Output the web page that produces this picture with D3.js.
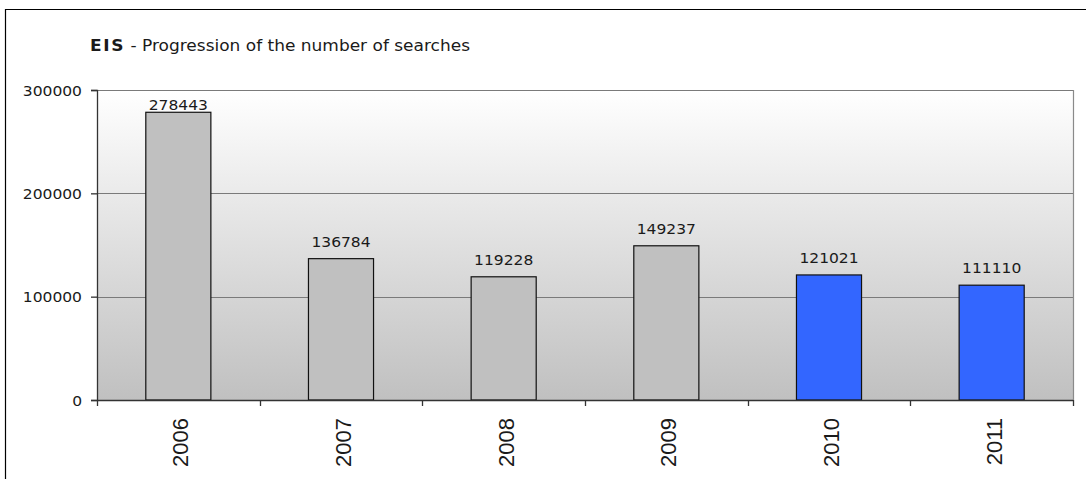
<!DOCTYPE html>
<html>
<head>
<meta charset="utf-8">
<script src="https://cdn.jsdelivr.net/npm/d3@7"></script>
<style>
  html, body { margin: 0; padding: 0; background: #fff; }
  svg { display: block; }
  text { font-family: "DejaVu Sans", Verdana, sans-serif; fill: #1a1a1a; }
</style>
</head>
<body>
<svg id="chart" width="1086" height="479"></svg>
<script>
// Yearly search counts for EIS
const years = ["2006", "2007", "2008", "2009", "2010", "2011"];
const searches = [278443, 136784, 119228, 149237, 121021, 111110];
const barColors = ["#c0c0c0", "#c0c0c0", "#c0c0c0", "#c0c0c0", "#3366ff", "#3366ff"];
const yTicks = [0, 100000, 200000, 300000];
const titleBold = "EIS";
const titleRest = " - Progression of the number of searches";

const svg = d3.select("#chart");
const W = 1086, H = 479;
const plot = { left: 97, right: 1073, top: 90, bottom: 400 };

// Outer frame (runs off the right and bottom edges)
svg.append("path")
  .attr("d", `M5.5,${H} L5.5,9.5 L${W},9.5`)
  .attr("fill", "none").attr("stroke", "#000").attr("stroke-width", 1.2);

const x = d3.scaleBand().domain(years)
  .range([plot.left, plot.right]).paddingInner(0.6).paddingOuter(0.3);
const y = d3.scaleLinear().domain([0, 300000]).range([plot.bottom, plot.top]);

// Plot-area background gradient
const defs = svg.append("defs");
const grad = defs.append("linearGradient").attr("id", "bg")
  .attr("x1", 0).attr("y1", 0).attr("x2", 0).attr("y2", 1);
grad.append("stop").attr("offset", "0%").attr("stop-color", "#ffffff");
grad.append("stop").attr("offset", "100%").attr("stop-color", "#c0c0c0");

svg.append("rect")
  .attr("x", plot.left).attr("y", plot.top)
  .attr("width", plot.right - plot.left).attr("height", plot.bottom - plot.top)
  .attr("fill", "url(#bg)");

// Horizontal gridlines
svg.append("g").selectAll("line").data(yTicks.filter(d => d > 0)).join("line")
  .attr("x1", plot.left).attr("x2", plot.right)
  .attr("y1", d => Math.round(y(d)) + 0.5).attr("y2", d => Math.round(y(d)) + 0.5)
  .attr("stroke", "#7a7a7a").attr("stroke-width", 1);

// Right border of plot area
svg.append("line")
  .attr("x1", plot.right + 0.5).attr("x2", plot.right + 0.5)
  .attr("y1", plot.top).attr("y2", plot.bottom)
  .attr("stroke", "#8a8a8a").attr("stroke-width", 1.2);

// Bars
svg.append("g").selectAll("rect").data(years).join("rect")
  .attr("x", d => x(d))
  .attr("y", (d, i) => y(searches[i]))
  .attr("width", x.bandwidth())
  .attr("height", (d, i) => plot.bottom - y(searches[i]))
  .attr("fill", (d, i) => barColors[i])
  .attr("stroke", "#111").attr("stroke-width", 1.2);

// Value labels, stretched horizontally like the rest of the chart text
const hScale = 1.15;
svg.append("g").selectAll("text").data(years).join("text")
  .attr("transform", (d, i) => {
    const cx = x(d) + x.bandwidth() / 2;
    const ty = Math.max(y(searches[i]) - 12, plot.top + 19.5);
    return `translate(${cx},${ty}) scale(${hScale},1)`;
  })
  .attr("text-anchor", "middle")
  .style("font-size", "13.5px")
  .text((d, i) => searches[i]);

// Y axis
const yAxis = svg.append("g").attr("transform", `translate(${plot.left},0)`)
  .call(d3.axisLeft(y).tickValues(yTicks).tickSize(6).tickPadding(0).tickFormat(d3.format("d")));
yAxis.select(".domain").attr("stroke", "#333").attr("stroke-width", 1.3);
yAxis.selectAll(".tick line").attr("stroke", "#333").attr("stroke-width", 1.3);
yAxis.selectAll(".tick text").remove();
yAxis.selectAll(".tick").append("text")
  .attr("transform", `translate(-15,5) scale(${hScale},1)`)
  .attr("text-anchor", "end")
  .style("font-size", "13.5px")
  .style("font-family", "'DejaVu Sans', Verdana, sans-serif")
  .attr("fill", "#1a1a1a")
  .text(d => d3.format("d")(d));

// X axis with ticks on band boundaries
const xg = svg.append("g");
xg.append("line")
  .attr("x1", plot.left).attr("x2", plot.right)
  .attr("y1", plot.bottom + 0.5).attr("y2", plot.bottom + 0.5)
  .attr("stroke", "#333").attr("stroke-width", 1.3);
const bounds = d3.range(years.length + 1).map(i => plot.left + i * (plot.right - plot.left) / years.length);
xg.selectAll("line.tk").data(bounds).join("line").attr("class", "tk")
  .attr("x1", d => Math.round(d) + 0.5).attr("x2", d => Math.round(d) + 0.5)
  .attr("y1", plot.bottom).attr("y2", plot.bottom + 6)
  .attr("stroke", "#333").attr("stroke-width", 1.3);
xg.selectAll("text").data(years).join("text")
  .attr("transform", d => `translate(${x(d) + x.bandwidth() / 2 + 10},418) rotate(-90)`)
  .attr("text-anchor", "end")
  .style("font-family", "'Liberation Sans', Arial, sans-serif")
  .style("font-size", "22px")
  .attr("fill", "#222")
  .text(d => d);

// Title
const title = svg.append("text")
  .attr("x", 90).attr("y", 51)
  .style("font-size", "15.5px")
  .attr("textLength", 380).attr("lengthAdjust", "spacingAndGlyphs");
title.append("tspan").style("font-weight", "bold").style("letter-spacing", "1.5px").text(titleBold);
title.append("tspan").text(titleRest);
</script>
</body>
</html>
